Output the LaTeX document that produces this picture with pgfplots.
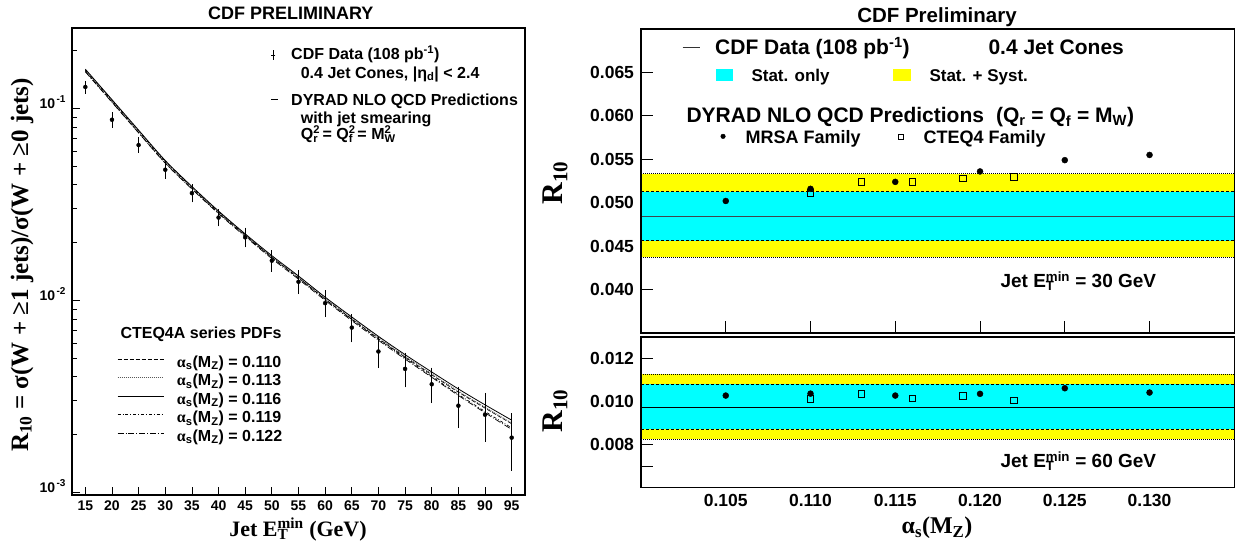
\documentclass[border=0pt]{standalone}
\usepackage{fontspec}
\setmainfont{Liberation Sans}
\newfontfamily\serif{Liberation Serif}
\usepackage{pgfplots}
\usepackage{pgfplotstable}
\pgfplotsset{compat=1.18}
\definecolor{rcyan}{RGB}{0,255,255}
\definecolor{ryellow}{RGB}{255,255,0}
\newcommand\fs[1]{\fontsize{#1}{#1}\selectfont}
\newcommand\alp{{\serif α}\textsubscript{s}}
\newcommand\ylab[1]{10\hspace{1.5pt}\raisebox{6pt}{\fs{10}#1}}

\pgfplotstableread{
x y stat tot
15 0.1292 0.0034 0.0104
20 0.0872 0.0035 0.0079
25 0.0644 0.0028 0.0062
30 0.0479 0.0026 0.0049
35 0.0362 0.0022 0.0036
40 0.0270 0.0015 0.0025
45 0.0213 0.0015 0.0023
50 0.0161 0.0013 0.0020
55 0.0125 0.0012 0.0017
60 0.00968 0.0011 0.0015
65 0.00722 0.00087 0.00114
70 0.00542 0.00076 0.00097
75 0.00440 0.00070 0.00087
80 0.00366 0.00060 0.00074
85 0.00283 0.00056 0.00062
90 0.00254 0.00061 0.00067
95 0.00193 0.00054 0.00063
}\cdfdata

\pgfplotstableread{
x a110 a113 a116 a119 a122
15 0.156 0.158 0.160 0.158 0.155
20 0.108 0.1095 0.111 0.110 0.1075
25 0.0748 0.0760 0.0770 0.0762 0.0745
30 0.0520 0.0528 0.0535 0.0530 0.0518
35 0.0382 0.0387 0.0392 0.0388 0.0380
40 0.0285 0.0289 0.0292 0.0289 0.0283
45 0.0217 0.0220 0.0222 0.0219 0.0215
50 0.0167 0.0169 0.0171 0.0168 0.0165
55 0.0131 0.0133 0.0134 0.0131 0.0129
60 0.01015 0.01030 0.01040 0.01015 0.01000
65 0.00800 0.00812 0.00820 0.00796 0.00785
70 0.00633 0.00642 0.00650 0.00628 0.00620
75 0.00507 0.00513 0.00522 0.00501 0.00495
80 0.00410 0.00415 0.00424 0.00402 0.00398
85 0.00333 0.00337 0.00346 0.00324 0.00320
90 0.00275 0.00278 0.00286 0.00264 0.00260
95 0.00228 0.00230 0.00238 0.00217 0.00213
}\theory

\begin{document}
\begin{tikzpicture}
\useasboundingbox (0pt,0pt) rectangle (1239pt,544pt);

% ---------------- left panel ----------------
\begin{axis}[
  at={(72pt,49pt)}, anchor=south west, scale only axis,
  width=453pt, height=467pt,
  ymode=log, xmin=12.5, xmax=97.5, ymin=9.7e-4, ymax=0.262,
  axis line style={line width=1.4pt},
  xtick={15,20,25,30,35,40,45,50,55,60,65,70,75,80,85,90,95},
  xticklabels={15,20,25,30,35,40,45,50,55,60,65,70,75,80,85,90,95},
  ytick={0.001,0.01,0.1},
  yticklabels={\ylab{-3},\ylab{-2},\ylab{-1}},
  minor ytick={0.002,0.003,0.004,0.005,0.006,0.007,0.008,0.009,0.02,0.03,0.04,0.05,0.06,0.07,0.08,0.09,0.2},
  xtick pos=bottom, ytick pos=left, tick align=inside,
  major tick length=8pt, minor tick length=5pt,
  tick style={black, line width=0.8pt},
  xticklabel style={font=\bfseries\fs{14}, yshift=-2pt},
  yticklabel style={font=\bfseries\fs{14}, anchor=base east, xshift=-3pt},
  legend style={draw=none, fill=none, at={(axis description cs:0.0993,0.3009)}, anchor=north west,
    inner sep=0pt, row sep=0pt, font=\bfseries\fs{16},
    nodes={inner sep=0pt, text height=12.5pt, text depth=6pt},
    /tikz/every odd column/.append style={column sep=13pt}},
  legend cell align=left,
  legend image code/.code={\draw[#1] (0pt,5pt) -- (46pt,5pt);},
]
\addplot[black, line width=0.7pt, dash pattern=on 4pt off 2pt, smooth] table[x=x,y=a110]{\theory};
\addlegendentry{\alp(M\textsubscript{Z}) = 0.110}
\addplot[black!65, line width=0.7pt, dash pattern=on 1pt off 1pt, smooth] table[x=x,y=a113]{\theory};
\addlegendentry{\alp(M\textsubscript{Z}) = 0.113}
\addplot[black, line width=0.8pt, smooth] table[x=x,y=a116]{\theory};
\addlegendentry{\alp(M\textsubscript{Z}) = 0.116}
\addplot[black, line width=0.7pt, dash pattern=on 3pt off 2pt on 0.8pt off 2pt, smooth] table[x=x,y=a119]{\theory};
\addlegendentry{\alp(M\textsubscript{Z}) = 0.119}
\addplot[black, line width=0.7pt, dash pattern=on 6pt off 2pt on 0.8pt off 2pt, smooth] table[x=x,y=a122]{\theory};
\addlegendentry{\alp(M\textsubscript{Z}) = 0.122}
% data: total error line
\addplot[forget plot, black, only marks, mark=none,
  error bars/.cd, y dir=both, y explicit, error mark=none,
  error bar style={black, line width=0.8pt}] table[x=x,y=y,y error=tot]{\cdfdata};
% data: stat error with caps
\addplot[forget plot, black, only marks, mark=*, mark size=0.9pt,
  error bars/.cd, y dir=both, y explicit, error mark=-,
  error mark options={mark size=4pt, line width=0.8pt},
  error bar style={black, line width=0.8pt}] table[x=x,y=y,y error=stat]{\cdfdata};
% legend symbols
\addplot[forget plot, black, only marks, mark=-, mark size=2pt,
  error bars/.cd, y dir=both, y explicit, error mark=none,
  error bar style={black, line width=0.8pt}] coordinates {(50.3,0.19) +- (0,0.0114)};
\addplot[forget plot, black, line width=0.8pt] coordinates {(49.9,0.1117) (51.2,0.1117)};
\end{axis}

\node[anchor=base, font=\bfseries\fs{18}] at (290.8pt,524.7pt) {CDF PRELIMINARY};
\node[anchor=base west, font=\bfseries\fs{16}] at (287.7pt,484.7pt) {CDF Data (108 pb\textsuperscript{-1})};
\node[anchor=base west, font=\bfseries\fs{16}] at (297.3pt,465.7pt) {0.4 Jet Cones, |η\textsubscript{d}| < 2.4};
\node[anchor=base west, font=\bfseries\fs{16}] at (287.7pt,438pt) {DYRAD NLO QCD Predictions};
\node[anchor=base west, font=\bfseries\fs{16}] at (297.3pt,420pt) {with jet smearing};
\node[anchor=base west, font=\bfseries\fs{16}] at (297.3pt,404pt) {Q\rlap{\textsuperscript{2}}\textsubscript{r} = Q\rlap{\textsuperscript{2}}\textsubscript{f} = M\rlap{\textsuperscript{2}}\textsubscript{W}};
\node[anchor=base west, font=\bfseries\fs{16}] at (117pt,205.7pt) {CTEQ4A series PDFs};
\node[rotate=90, font=\serif\bfseries\fs{25}] at (22pt,279pt) {R\textsubscript{10} = σ(W + ≥1 jets)/σ(W + ≥0 jets)};
\node[anchor=base, font=\serif\bfseries\fs{22}] at (298pt,8pt) {Jet E\rlap{\textsubscript{T}}\textsuperscript{min} (GeV)};

% ---------------- right top panel ----------------
\begin{axis}[
  at={(641pt,211pt)}, anchor=south west, scale only axis,
  width=593.3pt, height=304pt,
  xmin=0.100, xmax=0.135, ymin=0.035, ymax=0.070,
  scaled ticks=false,
  axis line style={line width=1.5pt},
  xtick={0.105,0.110,0.115,0.120,0.125,0.130}, xticklabels={},
  ytick={0.040,0.045,0.050,0.055,0.060,0.065},
  yticklabels={0.040,0.045,0.050,0.055,0.060,0.065},
  xtick pos=bottom, ytick pos=left, tick align=inside, major tick length=12pt,
  tick style={black, line width=0.8pt},
  yticklabel style={font=\bfseries\fs{17.5}, xshift=-3.5pt},
]
\addplot[fill=ryellow, draw=none] coordinates {(0.1,0.0437) (0.135,0.0437) (0.135,0.05336) (0.1,0.05336)};
\addplot[fill=rcyan, draw=none] coordinates {(0.1,0.04562) (0.135,0.04562) (0.135,0.05129) (0.1,0.05129)};
\addplot[black, line width=0.7pt, dash pattern=on 1pt off 1pt] coordinates {(0.1,0.0437) (0.135,0.0437)};
\addplot[black, line width=0.7pt, dash pattern=on 1pt off 1pt] coordinates {(0.1,0.05336) (0.135,0.05336)};
\addplot[black, line width=0.7pt, dash pattern=on 3pt off 2pt] coordinates {(0.1,0.04562) (0.135,0.04562)};
\addplot[black, line width=0.7pt, dash pattern=on 3pt off 2pt] coordinates {(0.1,0.05129) (0.135,0.05129)};
\addplot[black!80!cyan, line width=0.9pt] coordinates {(0.1,0.04845) (0.135,0.04845)};
\addplot[only marks, mark=square, mark size=3.3pt, black, mark options={line width=0.8pt}]
  coordinates {(0.110,0.0511) (0.113,0.0524) (0.116,0.0524) (0.119,0.0528) (0.122,0.0530)};
\addplot[only marks, mark=*, mark size=3pt, black]
  coordinates {(0.105,0.0502) (0.110,0.0516) (0.115,0.0524) (0.120,0.0536) (0.125,0.0549) (0.130,0.0555)};
% legend symbols
\addplot[black!80, line width=1pt] coordinates {(0.10246,0.06787) (0.10348,0.06787)};
\addplot[fill=rcyan, draw=none] coordinates {(0.10441,0.06397) (0.10541,0.06397) (0.10541,0.06539) (0.10441,0.06539)};
\addplot[fill=ryellow, draw=none] coordinates {(0.114866,0.06397) (0.11591,0.06397) (0.11591,0.06539) (0.114866,0.06539)};
\addplot[only marks, mark=*, mark size=2.3pt, black] coordinates {(0.10484,0.05764)};
\addplot[only marks, mark=square, mark size=2.5pt, black, mark options={line width=0.7pt}] coordinates {(0.11532,0.05764)};
\draw[line width=1.5pt] (rel axis cs:0,0) rectangle (rel axis cs:1,1);
\end{axis}

% ---------------- right bottom panel ----------------
\begin{axis}[
  at={(641pt,56.3pt)}, anchor=south west, scale only axis,
  width=593.3pt, height=150.7pt,
  xmin=0.100, xmax=0.135, ymin=0.006, ymax=0.013,
  scaled ticks=false,
  axis line style={line width=1.5pt},
  xtick=\empty,
  extra x ticks={0.105,0.110,0.115,0.120,0.125,0.130},
  extra x tick labels={0.105,0.110,0.115,0.120,0.125,0.130},
  extra x tick style={major tick length=0pt},
  ytick={0.007,0.008,0.009,0.010,0.011,0.012},
  yticklabels={,0.008,,0.010,,0.012},
  xtick pos=bottom, ytick pos=left, tick align=inside, major tick length=12pt,
  tick style={black, line width=0.8pt},
  yticklabel style={font=\bfseries\fs{17.5}, xshift=-3.5pt},
  xticklabel style={font=\bfseries\fs{17.5}, yshift=-3.5pt},
]
\addplot[fill=ryellow, draw=none] coordinates {(0.1,0.00826) (0.135,0.00826) (0.135,0.01127) (0.1,0.01127)};
\addplot[fill=rcyan, draw=none] coordinates {(0.1,0.00871) (0.135,0.00871) (0.135,0.01080) (0.1,0.01080)};
\addplot[black, line width=0.7pt, dash pattern=on 1pt off 1pt] coordinates {(0.1,0.00826) (0.135,0.00826)};
\addplot[black, line width=0.7pt, dash pattern=on 1pt off 1pt] coordinates {(0.1,0.01127) (0.135,0.01127)};
\addplot[black, line width=0.7pt, dash pattern=on 3pt off 2pt] coordinates {(0.1,0.00871) (0.135,0.00871)};
\addplot[black, line width=0.7pt, dash pattern=on 3pt off 2pt] coordinates {(0.1,0.01080) (0.135,0.01080)};
\addplot[black, line width=0.9pt] coordinates {(0.1,0.00975) (0.135,0.00975)};
\addplot[only marks, mark=square, mark size=3.3pt, black, mark options={line width=0.8pt}]
  coordinates {(0.110,0.01013) (0.113,0.01036) (0.116,0.01014) (0.119,0.01026) (0.122,0.01005)};
\addplot[only marks, mark=*, mark size=3pt, black]
  coordinates {(0.105,0.01028) (0.110,0.01037) (0.115,0.01028) (0.120,0.01036) (0.125,0.01062) (0.130,0.01042)};
\draw[line width=1.5pt] (rel axis cs:0,0) rectangle (rel axis cs:1,1);
\end{axis}

\node[anchor=base, font=\bfseries\fs{20.5}] at (937pt,521.3pt) {CDF Preliminary};
\node[anchor=base west, font=\bfseries\fs{21}] at (711.7pt,489pt) {CDF Data (108 pb\textsuperscript{-1})};
\node[anchor=base west, font=\bfseries\fs{21}] at (985pt,489pt) {0.4 Jet Cones};
\node[anchor=base west, font=\bfseries\fs{17}] at (748pt,462.3pt) {Stat. only};
\node[anchor=base west, font=\bfseries\fs{17}] at (926pt,462.3pt) {Stat. + Syst.};
\node[anchor=base west, font=\bfseries\fs{21}] at (683pt,421.3pt) {DYRAD NLO QCD Predictions\hspace{12pt}(Q\textsubscript{r} = Q\textsubscript{f} = M\textsubscript{W})};
\node[anchor=base west, font=\bfseries\fs{18}] at (742pt,400.7pt) {MRSA Family};
\node[anchor=base west, font=\bfseries\fs{18}] at (920pt,400.7pt) {CTEQ4 Family};
\node[anchor=base west, font=\bfseries\fs{19}] at (997pt,256.7pt) {Jet E\rlap{\textsubscript{T}}\textsuperscript{min} = 30 GeV};
\node[anchor=base west, font=\bfseries\fs{19}] at (997pt,76.7pt) {Jet E\rlap{\textsubscript{T}}\textsuperscript{min} = 60 GeV};
\node[rotate=90, font=\serif\bfseries\fs{30}] at (555pt,361pt) {R\textsubscript{10}};
\node[rotate=90, font=\serif\bfseries\fs{30}] at (555pt,133pt) {R\textsubscript{10}};
\node[anchor=base, font=\serif\bfseries\fs{24}] at (937pt,10.7pt) {α\textsubscript{s}(M\textsubscript{Z})};
\end{tikzpicture}
\end{document}
